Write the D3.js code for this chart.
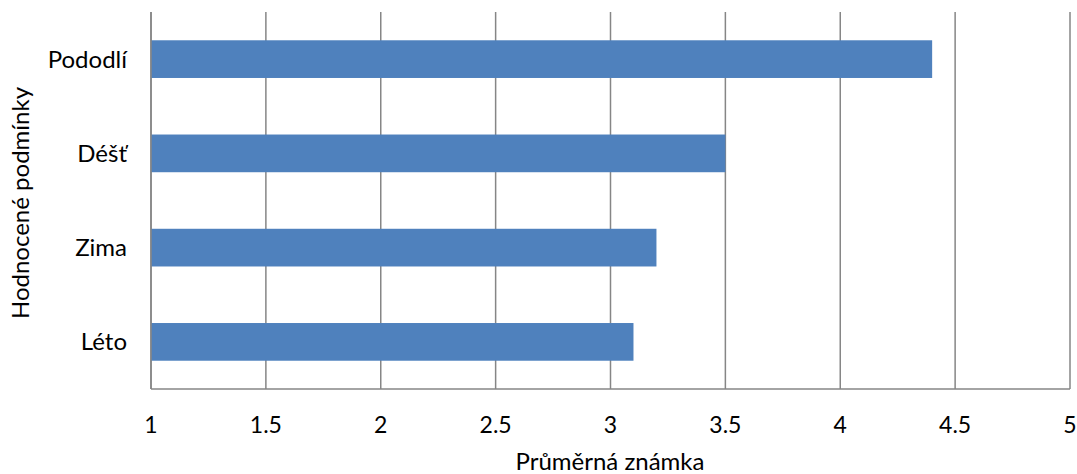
<!DOCTYPE html>
<html><head><meta charset="utf-8">
<script src="https://cdn.jsdelivr.net/npm/d3@7"></script>
<style>body{margin:0;background:#fff;} svg{display:block;} text{font-family:Lato,"Open Sans",sans-serif;fill:#000;}</style>
</head><body>
<svg id="c" width="1077" height="474"></svg>
<script>
const categories = ["Pododlí", "Déšť", "Zima", "Léto"];
const values = [4.4, 3.5, 3.2, 3.1];
const xTicks = [1, 1.5, 2, 2.5, 3, 3.5, 4, 4.5, 5];
const xTitle = "Průměrná známka";
const yTitle = "Hodnocené podmínky";

const svg = d3.select("#c");
const m = {left: 151, right: 1070, top: 12, bottom: 389};
const x = d3.scaleLinear().domain([1, 5]).range([m.left, m.right]);
const y = d3.scaleBand().domain(categories).range([m.top, m.bottom]).paddingInner(0.6).paddingOuter(0.3);

// gridlines
svg.append("g").selectAll("line").data(xTicks).join("line")
  .attr("x1", d => x(d)).attr("x2", d => x(d))
  .attr("y1", m.top).attr("y2", m.bottom)
  .attr("stroke", "#868686").attr("stroke-width", 1.5);

// bars
svg.append("g").selectAll("rect").data(categories).join("rect")
  .attr("x", x(1)).attr("y", d => y(d))
  .attr("width", (d, i) => x(values[i]) - x(1))
  .attr("height", y.bandwidth())
  .attr("fill", "#4F81BD");

// axes lines
svg.append("line").attr("x1", m.left).attr("x2", m.right).attr("y1", m.bottom).attr("y2", m.bottom)
  .attr("stroke", "#868686").attr("stroke-width", 1.5);
svg.append("line").attr("x1", m.left).attr("x2", m.left).attr("y1", m.top).attr("y2", m.bottom)
  .attr("stroke", "#868686").attr("stroke-width", 1.5);

// x tick labels
svg.append("g").selectAll("text").data(xTicks).join("text")
  .attr("x", d => x(d)).attr("y", 433)
  .attr("text-anchor", "middle").attr("font-size", 23)
  .text(d => d);

// y labels
svg.append("g").selectAll("text").data(categories).join("text")
  .attr("x", 127).attr("y", d => y(d) + y.bandwidth() / 2)
  .attr("dy", "0.35em")
  .attr("text-anchor", "end").attr("font-size", 24)
  .text(d => d);

svg.append("text").attr("x", 610).attr("y", 470).attr("text-anchor", "middle")
  .attr("font-size", 24).text(xTitle);
svg.append("text").attr("transform", "translate(29,203) rotate(-90)").attr("text-anchor", "middle")
  .attr("font-size", 24).text(yTitle);
</script>
</body></html>
